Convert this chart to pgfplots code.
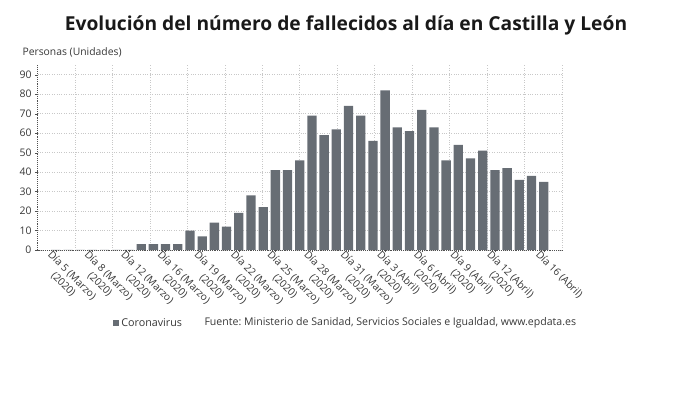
\documentclass[border=0pt]{standalone}
\usepackage{fontspec}
\setmainfont{Open Sans}
\usepackage{pgfplots}
\pgfplotsset{compat=1.18}
\definecolor{barc}{RGB}{103,109,116}
\definecolor{txt}{RGB}{55,55,55}
\definecolor{gridc}{RGB}{200,200,200}
\definecolor{axc}{RGB}{80,80,80}
\frenchspacing

\begin{document}
\begin{tikzpicture}
    \path[use as bounding box] (0,0) rectangle (690bp,406bp);
    \node[font=\fontsize{19.3}{22}\selectfont\bfseries, text=black!90] at (346bp,381bp)
        {Evolución del número de fallecidos al día en Castilla y León};
    \node[anchor=west, font=\fontsize{10.4}{12}\selectfont, text=txt] at (19bp,354bp)
        {Personas (Unidades)};
    \begin{axis}[
        at={(37.5bp,156bp)}, anchor=south west,
        scale only axis, width=524.5bp, height=185bp,
        xmin=-1.5, xmax=41.5, ymin=0, ymax=95,
        axis x line*=bottom, axis y line*=left,
        x axis line style={-}, y axis line style={-},
        axis line style={draw=axc, densely dotted, line width=0.9pt},
        ytick={0,10,...,90},
        xtick={0,3,6,9,12,15,18,21,24,27,30,33,36,40},
        xticklabels={
            {Día 5 (Marzo)\\(2020)}, {Día 8 (Marzo)\\(2020)},
            {Día 12 (Marzo)\\(2020)}, {Día 16 (Marzo)\\(2020)},
            {Día 19 (Marzo)\\(2020)}, {Día 22 (Marzo)\\(2020)},
            {Día 25 (Marzo)\\(2020)}, {Día 28 (Marzo)\\(2020)},
            {Día 31 (Marzo)\\(2020)}, {Día 3 (Abril)\\(2020)},
            {Día 6 (Abril)\\(2020)}, {Día 9 (Abril)\\(2020)},
            {Día 12 (Abril)\\(2020)}, {Día 16 (Abril)}},
        minor xtick={1.571,4.643,7.714,10.786,13.857,16.929,20.0,23.071,
                     26.143,29.214,32.286,35.357,38.429,41.5},
        xminorgrids, ymajorgrids,
        minor grid style={draw=gridc, dotted, line width=0.6pt},
        major grid style={draw=gridc, dotted, line width=0.6pt},
        minor tick length=0pt,
        major tick length=2.5bp,
        tick align=outside,
        tick style={draw=axc},
        /pgf/number format/assume math mode=true,
        yticklabel style={font=\fontsize{10.5}{12}\selectfont, text=txt},
        xticklabel style={font=\fontsize{10.3}{12.3}\selectfont, text=txt,
            rotate=-45, anchor=north west, align=center, inner sep=1pt,
            xshift=-5bp, yshift=1bp},
        legend style={draw=none, fill=none, at={(0.143,-0.395)}, anchor=west,
            font=\fontsize{10.8}{12}\selectfont, text=txt, inner sep=0pt},
        legend image code/.code={\fill[barc] (0bp,-3.3bp) rectangle (6.6bp,3.3bp);},
        clip=false,
    ]
        \addplot[ybar, bar width=9.3bp, fill=barc, draw=none, bar shift=0pt]
            table[x=i, y=v] {
            i  v
            0  0
            1  0
            2  0
            3  0
            4  0
            5  0
            6  0
            7  3
            8  3
            9  3
            10 3
            11 10
            12 7
            13 14
            14 12
            15 19
            16 28
            17 22
            18 41
            19 41
            20 46
            21 69
            22 59
            23 62
            24 74
            25 69
            26 56
            27 82
            28 63
            29 61
            30 72
            31 63
            32 46
            33 54
            34 47
            35 51
            36 41
            37 42
            38 36
            39 38
            40 35
        };
        \addlegendentry{Coronavirus}
    \end{axis}
    \node[anchor=west, font=\fontsize{10.6}{12}\selectfont, text=txt] at (201bp,83bp)
        {Fuente: Ministerio de Sanidad, Servicios Sociales e Igualdad, www.epdata.es};
\end{tikzpicture}
\end{document}
